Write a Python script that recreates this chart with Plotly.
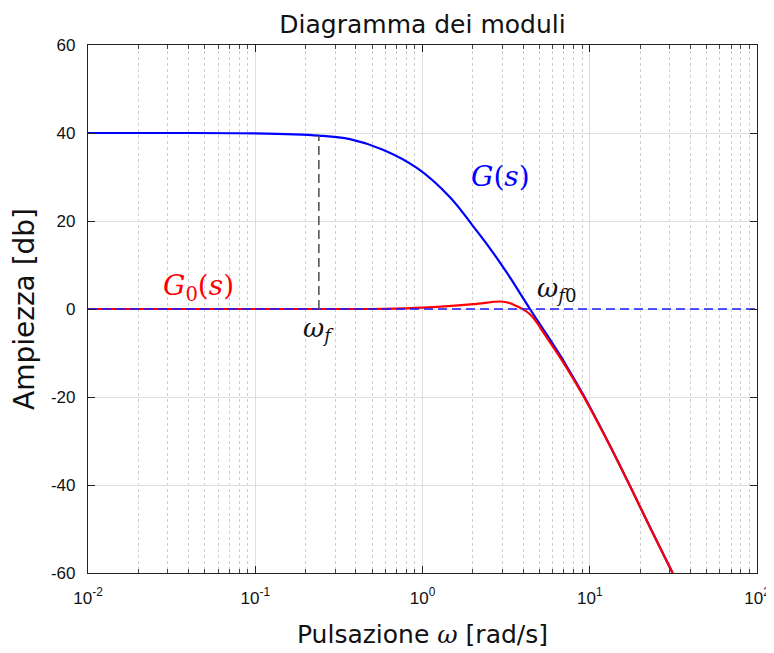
import numpy as np
import plotly.graph_objects as go

# Data
omega_G = [0.01, 0.03, 0.1, 0.24, 0.368, 0.58, 0.93, 1.46, 2.0, 2.53, 3.2, 3.41,
           4.39, 5.40, 6.64, 7.28, 9.15, 10.0, 13.2, 17.4, 23.4, 31.3]
mag_G = [40.0, 40.0, 39.9, 39.4, 38.6, 36.2, 32.0, 25.4, 18.9, 13.8, 8.2, 6.6,
         0.0, -5.2, -10.5, -13.0, -19.5, -22.2, -31.0, -40.2, -50.3, -60.0]

omega_G0 = [0.01, 0.1, 0.24, 0.58, 1.01, 2.01, 2.95, 3.34, 3.58, 3.83, 4.01, 4.39,
            4.71, 5.40, 6.20, 6.64, 7.28, 9.15, 10.0, 13.2, 17.4, 23.4, 31.3]
mag_G0 = [0.0, 0.0, 0.0, 0.05, 0.3, 1.1, 1.7, 1.3, 0.8, 0.3, -0.1, -1.2,
          -2.5, -5.9, -9.3, -11.0, -13.4, -19.75, -22.4, -31.1, -40.25, -50.33, -60.0]

omega_f = 0.24
mag_omega_f = 39.4
omega_range = [0.01, 100]

x_tickvals = [0.01, 0.1, 1, 10, 100]
x_ticktext = ["10<sup>-2</sup>", "10<sup>-1</sup>", "10<sup>0</sup>", "10<sup>1</sup>", "10<sup>2</sup>"]
x_minor_tickvals = [m * d for d in [0.01, 0.1, 1, 10] for m in range(2, 10)]
y_tickvals = [60, 40, 20, 0, -20, -40, -60]
y_ticktext = ["60", "40", "20", "0", "-20", "-40", "-60"]

fig = go.Figure()
fig.add_trace(go.Scatter(x=omega_G, y=mag_G, mode="lines",
                         line=dict(color="#0000ff", width=2.2, shape="spline", smoothing=1.0),
                         showlegend=False, hoverinfo="skip"))
fig.add_trace(go.Scatter(x=omega_G0, y=mag_G0, mode="lines",
                         line=dict(color="#ff0000", width=2.2, shape="spline", smoothing=1.0),
                         showlegend=False, hoverinfo="skip"))
fig.add_trace(go.Scatter(x=omega_range, y=[0, 0], mode="lines",
                         line=dict(color="#1a1aff", width=1.4, dash="9px,5px"),
                         showlegend=False, hoverinfo="skip"))
fig.add_trace(go.Scatter(x=[omega_f, omega_f], y=[0, mag_omega_f], mode="lines",
                         line=dict(color="#555555", width=1.6, dash="9px,5px"),
                         showlegend=False, hoverinfo="skip"))

math_font = "DejaVu Serif"
fig.add_annotation(x=np.log10(2.91), y=30.2, text="<i>G</i>(<i>s</i>)", showarrow=False,
                   font=dict(family=math_font, size=28, color="#0000ff"))
fig.add_annotation(x=np.log10(0.0455), y=4.8, text="<i>G</i><sub>0</sub>(<i>s</i>)", showarrow=False,
                   font=dict(family=math_font, size=28, color="#ff0000"))
fig.add_annotation(x=np.log10(omega_f), y=-4.6, text="<i>ω</i><sub><i>f</i></sub>", showarrow=False,
                   font=dict(family=math_font, size=26, color="#111111"))
fig.add_annotation(x=np.log10(6.4), y=4.4, text="<i>ω</i><sub><i>f</i>0</sub>", showarrow=False,
                   font=dict(family=math_font, size=26, color="#111111"))

# page body has an 8px margin, so the figure is sized/offset to compensate
fig.update_layout(
    width=766, height=645,
    margin=dict(l=80, r=17, t=37, b=80, autoexpand=False),
    paper_bgcolor="white", plot_bgcolor="white",
    title=dict(text="Diagramma dei moduli", x=0.5411, xanchor="center", y=0.975, yanchor="middle",
               font=dict(family="DejaVu Sans", size=25, color="#111111")),
)
fig.update_xaxes(
    type="log", range=[-2, 2], automargin=False,
    tickvals=x_tickvals, ticktext=x_ticktext,
    tickfont=dict(family="Liberation Sans", size=17, color="#111111"),
    ticks="inside", ticklen=7, tickcolor="#222222", ticklabelstandoff=9,
    showline=True, linecolor="#222222", linewidth=1.2, mirror="ticks",
    showgrid=True, gridcolor="#dedede", gridwidth=1,
    minor=dict(tickvals=x_minor_tickvals, ticks="inside", ticklen=4, tickcolor="#444444",
               showgrid=True, gridcolor="#d0d0d0", griddash="dot", gridwidth=1),
    zeroline=False,
    title=dict(text="Pulsazione <i style='font-family:DejaVu Serif'>ω</i> [rad/s]",
               font=dict(family="DejaVu Sans", size=25, color="#111111"), standoff=18),
)
fig.update_yaxes(
    range=[-60, 60], automargin=False,
    tickvals=y_tickvals, ticktext=y_ticktext,
    tickfont=dict(family="Liberation Sans", size=17, color="#111111"),
    ticks="inside", ticklen=7, tickcolor="#222222", ticklabelstandoff=8,
    showline=True, linecolor="#222222", linewidth=1.2, mirror="ticks",
    showgrid=True, gridcolor="#dedede", gridwidth=1,
    zeroline=False,
    title=dict(text="Ampiezza [db]", font=dict(family="DejaVu Sans", size=28, color="#111111"), standoff=8),
)

fig.write_html("out.html")
